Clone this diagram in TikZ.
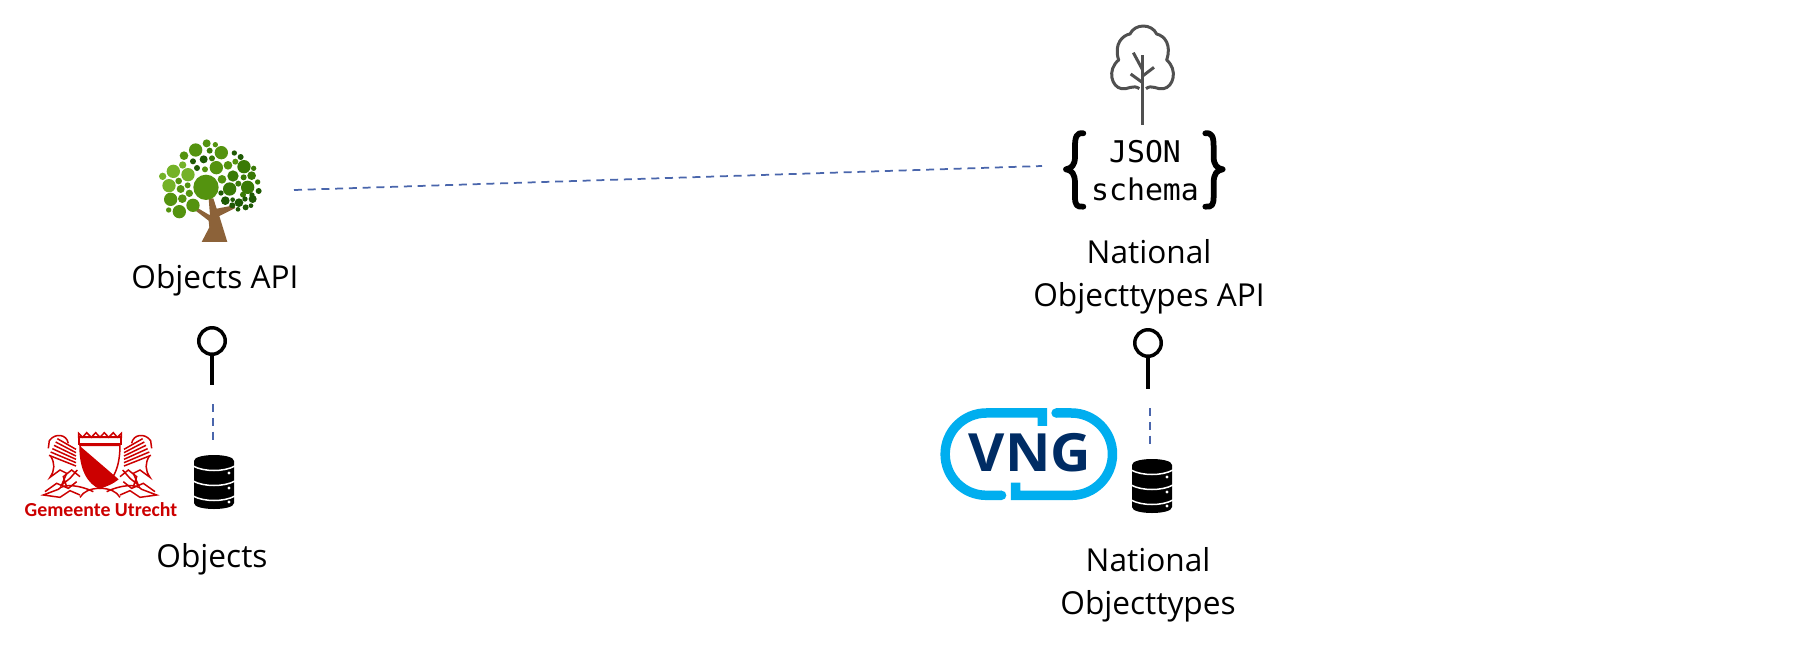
\documentclass[tikz,border=0pt]{standalone}
\usepackage{fontspec}
\setmainfont{Open Sans}
\newfontfamily\monofont{DejaVu Sans Mono}
\newfontfamily\logofont{Carlito}
\usetikzlibrary{calc}
\definecolor{lienbleu}{HTML}{4A66AC}
\definecolor{vert1}{HTML}{74B228}
\definecolor{vert2}{HTML}{54930F}
\definecolor{vert3}{HTML}{3A7A06}
\definecolor{vert4}{HTML}{1F5A04}
\definecolor{brun}{HTML}{8C6239}
\definecolor{gris}{HTML}{505050}
\definecolor{rouge}{HTML}{CC0000}
\definecolor{vngclair}{HTML}{00AEEF}
\definecolor{vngfonce}{HTML}{002C64}
\tikzset{
	titre/.style={font=\fontsize{18}{24.6}\selectfont,align=center,inner sep=0pt},
	code/.style={font=\monofont\fontsize{17}{21.5}\selectfont,align=center,inner sep=0pt},
	prise/.style={circle,draw=black,line width=0.07cm,minimum size=0.53cm,inner sep=0pt},
	tige/.style={line width=0.07cm,black},
	lien/.style={lienbleu,line width=0.035cm,dash pattern=on 0.16cm off 0.115cm},
	accolade/.style={black,line width=0.115cm,line join=round,line cap=round},
	trait/.style={rouge,line width=0.03cm},
}
\newcommand{\Base}[2]{
	\fill[black] (#1-20,#2-21) .. controls (#1-20,#2-29) and (#1+20,#2-29) .. (#1+20,#2-21) -- (#1+20,#2+21) .. controls (#1+20,#2+29) and (#1-20,#2+29) .. (#1-20,#2+21) -- cycle;
	\foreach \h in {-16,-1,14}{
		\draw[white,line width=0.03cm] (#1-21,#2+\h) .. controls (#1-10,#2+\h+6) and (#1+10,#2+\h+6) .. (#1+21,#2+\h);
	}
	\foreach \h in {-9,6,20}{
		\fill[white] (#1+15,#2+\h) circle (1.6);
	}
}
\newcommand{\Accolade}{
	(130,370) .. controls (110,367) and (105,380) .. (105,410) -- (105,440) .. controls (105,465) and (95,475) .. (78,478) .. controls (95,481) and (105,490) .. (105,520) -- (105,560) .. controls (105,585) and (110,592) .. (130,590)
}

\begin{document}
\begin{tikzpicture}[x=0.02cm,y=-0.02cm]
	\useasboundingbox (0,0) rectangle (1800,650);

%Arbre vert
\begin{scope}[shift={(150,130)},scale=0.3333]
	\fill[brun] (155,336) -- (178,292) -- (176,272) -- (138,243) -- (146,236) -- (180,256) -- (176,205) -- (190,205) -- (200,236) -- (252,226) -- (256,234) -- (208,258) -- (232,336) -- cycle;
	\foreach \x/\y/\r in {70/124/20,38/139/11,98/105/11,114/134/20,57/167/20}
		\fill[vert1] (\x,\y) circle (\r);
	\foreach \x/\y/\r in {137/60/20,214/68/20,170/40/12,196/44/8,102/77/13,86/153/10,92/177/12,113/166/9,118/190/11,62/208/20,97/206/13,129/226/20,88/245/20,56/240/8,165/118/9,199/113/20,234/106/13,256/95/9,216/148/13,168/172/38}
		\fill[vert2] (\x,\y) circle (\r);
	\foreach \x/\y/\r in {179/62/9,186/85/9,282/110/20,311/115/8,305/137/13,281/142/9,249/138/17,323/156/8,265/161/9,293/172/20,239/177/20,279/194/9}
		\fill[vert3] (\x,\y) circle (\r);
	\foreach \x/\y/\r in {161/88/12,129/94/9,141/114/9,253/69/8,272/81/9,326/183/9,213/189/8,306/195/8,226/212/13,248/209/7,285/207/8,308/207/12,267/218/13,247/226/9,303/227/7,287/232/9,264/238/7}
		\fill[vert4] (\x,\y) circle (\r);
\end{scope}

%Arbre contour
\begin{scope}[shift={(1040,10)},scale=0.3333]
	\draw[gris,line width=0.06cm,line join=round] (298,236) .. controls (280,222) and (262,240) .. (245,236)
		.. controls (215,232) and (200,180) .. (236,150)
		.. controls (220,100) and (250,75) .. (270,72)
		.. controls (285,40) and (335,40) .. (350,72)
		.. controls (375,78) and (395,105) .. (380,150)
		.. controls (415,180) and (400,232) .. (370,236)
		.. controls (352,240) and (335,222) .. (318,236);
	\draw[gris,line width=0.06cm] (308,135) -- (308,345);
	\draw[gris,line width=0.06cm] (280,128) -- (308,180);
	\draw[gris,line width=0.06cm] (342,172) -- (308,198);
	\draw[gris,line width=0.06cm] (272,192) -- (308,218);
	%Accolades
	\draw[accolade] \Accolade;
	\begin{scope}[shift={(626,0)},xscale=-1]
		\draw[accolade] \Accolade;
	\end{scope}
\end{scope}
\node[code] (schema) at (1145,171) {JSON\\schema};

%Logo Utrecht
\begin{scope}[shift={(10,420)},scale=0.3333]
	\begin{scope}[shift={(270,0)}]
		\foreach \m in {1,-1}{
			\begin{scope}[xscale=\m]
				\foreach \d in {0,10,20,30,40,50}{
					\draw[trait] (72,88+\d) -- (128+\d/2,56+\d);
				}
				\draw[trait] (95,70) .. controls (100,42) and (135,38) .. (152,62) -- (155,85);
				\draw[trait] (148,108) .. controls (135,130) and (135,150) .. (150,172) -- (120,150) -- (100,160) -- (115,195) -- (90,175) -- (68,150);
				\draw[trait] (20,215) .. controls (60,195) and (110,190) .. (125,208) -- (170,225) -- (120,232) -- (90,212) -- (60,225);
				\draw[trait] (70,185) -- (95,205) -- (130,190) -- (165,215);
				\draw[trait] (60,170) -- (85,150) -- (110,170) -- (100,200);
				\draw[trait] (0,205) .. controls (30,205) and (50,215) .. (60,232);
			\end{scope}
		}
		%Couronne
		\draw[rouge,line width=0.035cm] (-62,72) rectangle (62,52);
		\draw[rouge,line width=0.03cm] (-64,40) -- (-64,52) -- (64,52) -- (64,40) -- (52,52) -- (40,38) -- (26,52) -- (13,38) -- (0,52) -- (-13,38) -- (-26,52) -- (-40,38) -- (-52,52) -- cycle;
		%Ecu
		\draw[rouge,line width=0.03cm] (-60,76) -- (60,76) .. controls (60,150) and (35,190) .. (0,205) .. controls (-35,190) and (-60,150) .. (-60,76) -- cycle;
		\fill[rouge] (-58,80) -- (56,178) .. controls (40,192) and (20,200) .. (0,205) .. controls (-35,190) and (-60,150) .. (-58,80) -- cycle;
	\end{scope}
\end{scope}
\node[font=\logofont\bfseries\fontsize{11.3}{14}\selectfont,text=rouge,inner sep=0pt] (utrecht) at (101,510) {Gemeente Utrecht};

%Logo VNG
\begin{scope}[shift={(930,320)},scale=0.3333]
	\draw[vngclair,line width=0.19cm] (337,318) -- (337,279) -- (169,279) arc (270:90:123.5) -- (215,526);
	\fill[vngclair] (215,526) circle (14);
	\draw[vngclair,line width=0.19cm] (257,488) -- (257,526) -- (424,526) arc (90:-90:123.5) -- (378,279);
	\fill[vngclair] (378,279) circle (14);
\end{scope}
\node[font=\bfseries\fontsize{30}{30}\selectfont,text=vngfonce,inner sep=0pt,xscale=1.06] (vng) at (1030,453) {VNG};

%Prises
\node[prise] (priseObjets) at (212,341) {};
\coordinate (tigeObjets) at (212,385);
\draw[tige] (priseObjets) -- (tigeObjets);
\node[prise] (priseTypes) at (1148,343) {};
\coordinate (tigeTypes) at (1148,389);
\draw[tige] (priseTypes) -- (tigeTypes);

%Bases
\Base{214}{482};
\Base{1152}{486};

%Liens
\coordinate (arbreLien) at (294,190);
\coordinate (schemaLien) at (1042,166);
\draw[lien] (arbreLien) -- (schemaLien);
\coordinate (baseObjetsHaut) at (213,404);
\coordinate (baseObjetsBas) at (213,440);
\draw[lien] (baseObjetsHaut) -- (baseObjetsBas);
\coordinate (baseTypesHaut) at (1150,408);
\coordinate (baseTypesBas) at (1150,444);
\draw[lien] (baseTypesHaut) -- (baseTypesBas);

%Textes
\node[titre] (objetsApi) at (215,280.5) {Objects API};
\node[titre] (typesApi) at (1149,276.5) {National\\Objecttypes API};
\node[titre] (objets) at (212,559) {Objects};
\node[titre] (types) at (1148,584.5) {National\\Objecttypes};

\end{tikzpicture}
\end{document}
